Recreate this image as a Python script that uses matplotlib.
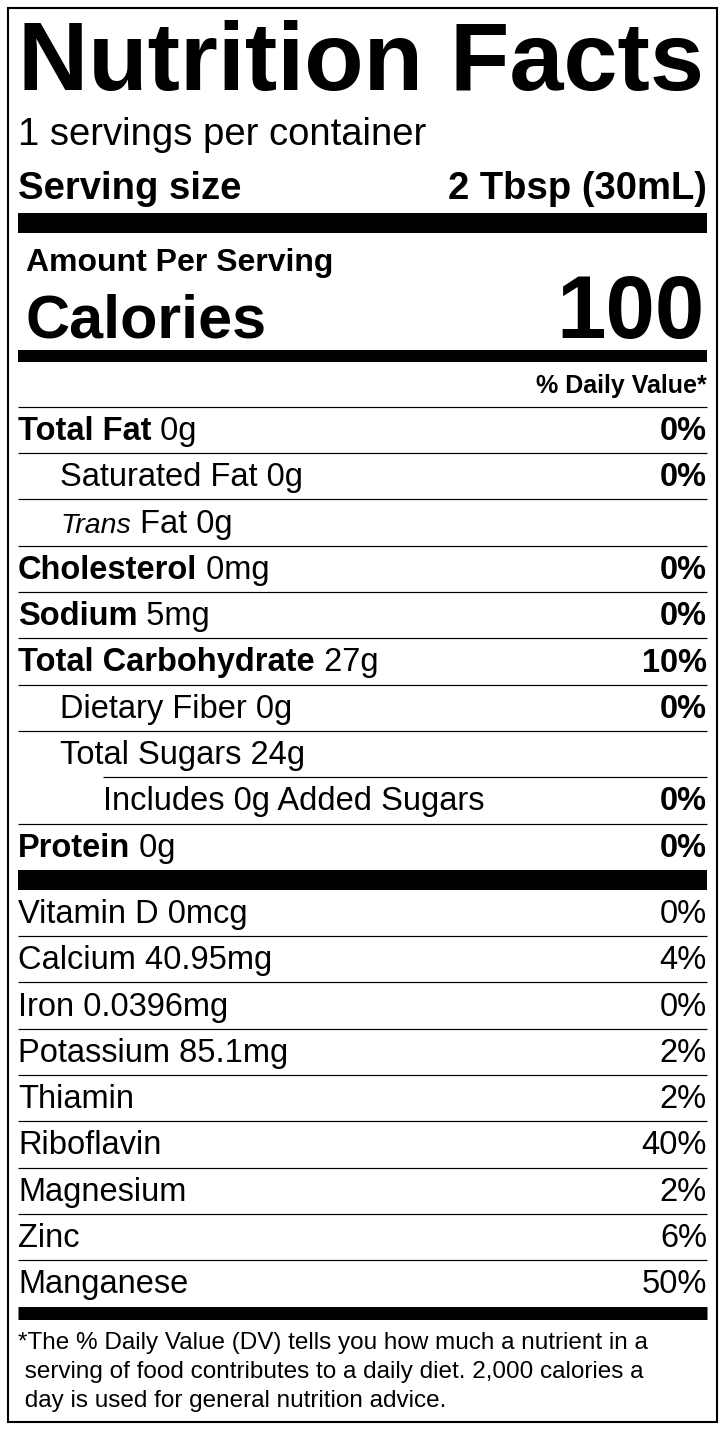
import matplotlib
matplotlib.use("Agg")
import matplotlib.pyplot as plt

plt.rcParams["font.family"] = ["Liberation Sans", "DejaVu Sans"]

servings = "1 servings per container"
serving_size = "2 Tbsp (30mL)"
calories = "100"

# (bold part, regular part, daily value, indent level)
main_rows = [
    ("Total Fat", " 0g", "0%", 0),
    ("", "Saturated Fat 0g", "0%", 1),
    ("", "Trans", "", 1),
    ("Cholesterol", " 0mg", "0%", 0),
    ("Sodium", " 5mg", "0%", 0),
    ("Total Carbohydrate", " 27g", "10%", 0),
    ("", "Dietary Fiber 0g", "0%", 1),
    ("", "Total Sugars 24g", "", 1),
    ("", "Includes 0g Added Sugars", "0%", 2),
    ("Protein", " 0g", "0%", 0),
]
vit_names = ["Vitamin D 0mcg", "Calcium 40.95mg", "Iron 0.0396mg", "Potassium 85.1mg",
             "Thiamin", "Riboflavin", "Magnesium", "Zinc", "Manganese"]
vit_dv = ["0%", "4%", "0%", "2%", "2%", "40%", "2%", "6%", "50%"]
footnote = ["*The % Daily Value (DV) tells you how much a nutrient in a",
            " serving of food contributes to a daily diet. 2,000 calories a",
            " day is used for general nutrition advice."]

W, H = 725, 1431
fig = plt.figure(figsize=(W / 100, H / 100), dpi=100)
ax = fig.add_axes([0, 0, 1, 1])
ax.set_xlim(0, W)
ax.set_ylim(H, 0)
ax.axis("off")
renderer = fig.canvas.get_renderer()

L, R = 18, 707


def width(t):
    return t.get_window_extent(renderer).width  # 1 px == 1 data unit


def hline(y, lw_px, x0=L):
    ax.plot([x0, R], [y, y], color="black", lw=lw_px * 0.72, solid_capstyle="butt")


ax.add_patch(plt.Rectangle((8, 8), 709, 1414, fill=False, lw=1.5, ec="black"))

ax.text(L, 90, "Nutrition Facts", fontsize=70, fontweight="bold", va="baseline")
ax.text(L, 145, servings, fontsize=27.5, va="baseline")
ax.text(L, 199, "Serving size", fontsize=27.5, fontweight="bold", va="baseline")
ax.text(R, 199, serving_size, fontsize=27.5, fontweight="bold", va="baseline", ha="right")
hline(223, 20)
ax.text(26, 271, "Amount Per Serving", fontsize=23, fontweight="bold", va="baseline")
ax.text(26, 337, "Calories", fontsize=44, fontweight="bold", va="baseline")
ax.text(R - 2, 338, calories, fontsize=64, fontweight="bold", va="baseline", ha="right")
hline(356, 12)
ax.text(R, 393, "% Daily Value*", fontsize=18, fontweight="bold", va="baseline", ha="right")
hline(407, 1.2)

fs = 23.5
step = 46.3
indents = [L, 60, 103]
for i, (b, r, dv, lvl) in enumerate(main_rows):
    yc = 430 + i * step
    yb = yc + 10
    x = indents[lvl]
    if b:
        tb = ax.text(x, yb, b, fontsize=fs, fontweight="bold", va="baseline")
        x += width(tb)
    if r == "Trans":
        ti = ax.text(x, yb, "Trans", fontsize=fs - 3, style="italic", va="baseline")
        x += width(ti)
        ax.text(x, yb, " Fat 0g", fontsize=fs, va="baseline")
    else:
        ax.text(x, yb, r, fontsize=fs, va="baseline")
    if dv:
        ax.text(R, yb, dv, fontsize=fs, fontweight="bold", va="baseline", ha="right")
    if i < len(main_rows) - 1:
        nxt = main_rows[i + 1][3]
        hline(yc + step / 2, 1.2, indents[2] if nxt == 2 else L)

hline(880, 20)
for i, (n, dv) in enumerate(zip(vit_names, vit_dv)):
    yc = 913 + i * step
    ax.text(L, yc + 10, n, fontsize=fs, va="baseline")
    ax.text(R, yc + 10, dv, fontsize=fs, va="baseline", ha="right")
    if i < len(vit_names) - 1:
        hline(yc + step / 2, 1.2)
hline(1313, 13)

for i, line in enumerate(footnote):
    ax.text(L, 1349 + i * 29, line, fontsize=17.5, va="baseline")

fig.savefig("out.png", dpi=100)
